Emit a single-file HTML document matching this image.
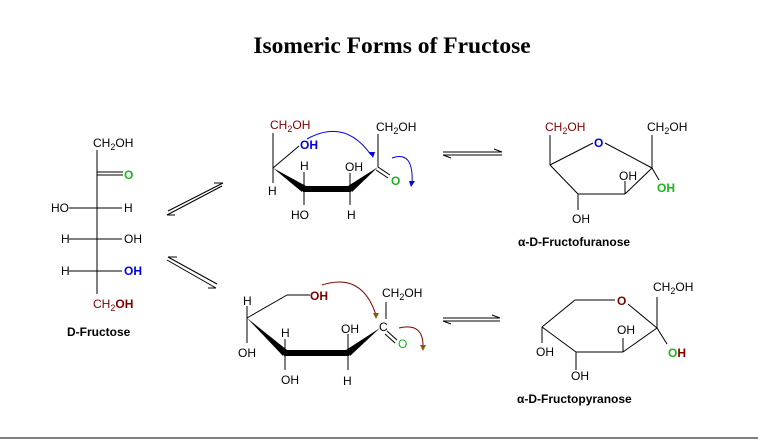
<!DOCTYPE html>
<html><head><style>
html,body{margin:0;padding:0;background:#fff;}
svg{display:block;}
text{font-family:"Liberation Sans",Arial,sans-serif;font-size:12px;}
.b{font-weight:bold;}
</style></head><body>
<svg width="758" height="442" viewBox="0 0 758 442" xmlns="http://www.w3.org/2000/svg">
<rect width="758" height="442" fill="#fff"/>
<text x="392" y="53" text-anchor="middle" style="font-family:'Liberation Serif',serif;font-size:23.5px;font-weight:bold">Isomeric Forms of Fructose</text>
<line x1="0" y1="438" x2="758" y2="438" stroke="#000" stroke-width="1"/>

<!-- Fischer -->
<g stroke="#000" stroke-width="1" fill="none">
<line x1="97" y1="150" x2="97" y2="294"/>
<line x1="97" y1="172" x2="123" y2="172"/><line x1="97" y1="175" x2="123" y2="175"/>
<line x1="69" y1="208" x2="122" y2="208"/>
<line x1="69" y1="239" x2="122" y2="239"/>
<line x1="69" y1="271" x2="122" y2="271"/>
</g>
<text x="93" y="147">CH<tspan font-size="9" dy="3">2</tspan><tspan dy="-3">OH</tspan></text>
<text x="124" y="179" fill="#1cb51c" class="b">O</text>
<text x="51" y="212">HO</text><text x="124" y="212">H</text>
<text x="61" y="243">H</text><text x="124" y="243">OH</text>
<text x="61" y="275">H</text><text x="124" y="275" fill="#0000e0" class="b">OH</text>
<text x="93" y="308" fill="#800000">CH<tspan font-size="9" dy="3">2</tspan><tspan dy="-3" class="b">OH</tspan></text>
<text x="67" y="336" class="b">D-Fructose</text>

<!-- equilibrium arrows -->
<g stroke="#000" stroke-width="1" fill="none">
<line x1="168" y1="211" x2="223" y2="183"/><line x1="167" y1="215" x2="222" y2="186"/>
<line x1="223" y1="183" x2="214" y2="183"/>
<line x1="167" y1="215" x2="175" y2="215"/>
<line x1="168" y1="257" x2="217" y2="284"/><line x1="167" y1="260" x2="216" y2="288"/>
<line x1="216" y1="288" x2="208" y2="288"/>
<line x1="168" y1="257" x2="177" y2="257"/>
<line x1="443" y1="152" x2="502" y2="152"/><line x1="443" y1="155" x2="502" y2="155"/>
<line x1="502" y1="152" x2="494" y2="149"/>
<line x1="443" y1="155" x2="451" y2="158"/>
<line x1="443" y1="318" x2="500" y2="318"/><line x1="443" y1="321" x2="500" y2="321"/>
<line x1="500" y1="318" x2="492" y2="315"/>
<line x1="443" y1="321" x2="451" y2="324"/>
</g>

<!-- Top middle open form -->
<g stroke="#000" stroke-width="1" fill="none">
<line x1="273" y1="133" x2="273" y2="168"/>
<line x1="273" y1="168" x2="299" y2="146"/>
<line x1="273" y1="168" x2="273" y2="183"/>
<line x1="304" y1="172" x2="304" y2="205"/>
<line x1="350" y1="173" x2="350" y2="205"/>
<line x1="378" y1="134" x2="378" y2="167"/>
<line x1="378" y1="167" x2="390" y2="175"/><line x1="376" y1="170" x2="388" y2="178"/>
</g>
<polygon points="273,168 306,186 302,192" fill="#000"/>
<rect x="303" y="186" width="48" height="6" fill="#000"/>
<polygon points="348,186 352,192 378,167" fill="#000"/>
<text x="270" y="129" fill="#800000">CH<tspan font-size="9" dy="3">2</tspan><tspan dy="-3">OH</tspan></text>
<text x="300" y="149" fill="#0000e0" class="b">OH</text>
<text x="268" y="195">H</text>
<text x="300" y="170">H</text>
<text x="291" y="219">HO</text>
<text x="345" y="171">OH</text>
<text x="347" y="219">H</text>
<text x="376" y="131">CH<tspan font-size="9" dy="3">2</tspan><tspan dy="-3">OH</tspan></text>
<text x="391" y="185" fill="#1cb51c" class="b">O</text>
<g stroke="#0000e0" stroke-width="1" fill="none">
<path d="M307,139 Q345,118 371,155"/>
<path d="M392,158 Q414,150 412,184"/>
</g>
<polygon points="369,152 375,152 373,158" fill="#0000e0"/>
<polygon points="409,181 415,181 411,187" fill="#0000e0"/>

<!-- Bottom middle open form -->
<g stroke="#000" stroke-width="1" fill="none">
<line x1="247" y1="306" x2="247" y2="343"/>
<line x1="247" y1="318" x2="287" y2="295"/><line x1="287" y1="295" x2="310" y2="295"/>
<line x1="285" y1="339" x2="285" y2="370"/>
<line x1="348" y1="334" x2="348" y2="370"/>
<line x1="386" y1="302" x2="386" y2="319"/>
<line x1="387" y1="331" x2="397" y2="340"/><line x1="385" y1="334" x2="395" y2="343"/>
</g>
<polygon points="247,318 287,350 283,356" fill="#000"/>
<rect x="284" y="350" width="65" height="6" fill="#000"/>
<polygon points="346,350 350,356 380,328" fill="#000"/>
<text x="243" y="305">H</text>
<text x="310" y="300" fill="#800000" class="b">OH</text>
<text x="238" y="357">OH</text>
<text x="281" y="337">H</text>
<text x="281" y="384">OH</text>
<text x="341" y="333">OH</text>
<text x="343" y="385">H</text>
<text x="379" y="331">C</text>
<text x="382" y="297">CH<tspan font-size="9" dy="3">2</tspan><tspan dy="-3">OH</tspan></text>
<text x="398" y="348" fill="#1cb51c">O</text>
<g stroke="#800000" stroke-width="1" fill="none">
<path d="M322,285 Q362,272 376,315"/>
<path d="M399,328 Q424,322 423,348"/>
</g>
<polygon points="373,313 379,313 376,319" fill="#806000"/>
<polygon points="420,345 426,345 423,351" fill="#806000"/>

<!-- Furanose -->
<g stroke="#000" stroke-width="1" fill="none">
<line x1="550" y1="135" x2="550" y2="165"/>
<line x1="550" y1="165" x2="593" y2="143"/>
<line x1="605" y1="143" x2="652" y2="168"/>
<line x1="652" y1="135" x2="652" y2="168"/>
<line x1="652" y1="168" x2="625" y2="194"/>
<line x1="625" y1="194" x2="578" y2="194"/>
<line x1="578" y1="194" x2="550" y2="165"/>
<line x1="625" y1="181" x2="625" y2="194"/>
<line x1="652" y1="168" x2="659" y2="180"/>
<line x1="578" y1="194" x2="578" y2="210"/>
</g>
<text x="545" y="131" fill="#800000">CH<tspan font-size="9" dy="3">2</tspan><tspan dy="-3">OH</tspan></text>
<text x="594" y="147" fill="#0000e0" class="b">O</text>
<text x="647" y="131">CH<tspan font-size="9" dy="3">2</tspan><tspan dy="-3">OH</tspan></text>
<text x="619" y="180">OH</text>
<text x="657" y="192" fill="#1cb51c" class="b">OH</text>
<text x="572" y="223">OH</text>
<text x="518" y="246" class="b">α-D-Fructofuranose</text>

<!-- Pyranose -->
<g stroke="#000" stroke-width="1" fill="none">
<line x1="575" y1="300" x2="615" y2="300"/>
<line x1="628" y1="304" x2="657" y2="328"/>
<line x1="657" y1="297" x2="657" y2="328"/>
<line x1="657" y1="328" x2="623" y2="352"/>
<line x1="623" y1="352" x2="576" y2="352"/>
<line x1="576" y1="352" x2="542" y2="327"/>
<line x1="542" y1="327" x2="575" y2="300"/>
<line x1="542" y1="327" x2="542" y2="343"/>
<line x1="576" y1="352" x2="576" y2="370"/>
<line x1="623" y1="338" x2="623" y2="352"/>
<line x1="657" y1="328" x2="667" y2="344"/>
</g>
<text x="617" y="305" fill="#800000" class="b">O</text>
<text x="653" y="291">CH<tspan font-size="9" dy="3">2</tspan><tspan dy="-3">OH</tspan></text>
<text x="617" y="334">OH</text>
<text x="536" y="356">OH</text>
<text x="571" y="380">OH</text>
<text x="668" y="357" class="b"><tspan fill="#1cb51c">O</tspan><tspan fill="#800000">H</tspan></text>
<text x="517" y="403" class="b">α-D-Fructopyranose</text>
</svg>
</body></html>
